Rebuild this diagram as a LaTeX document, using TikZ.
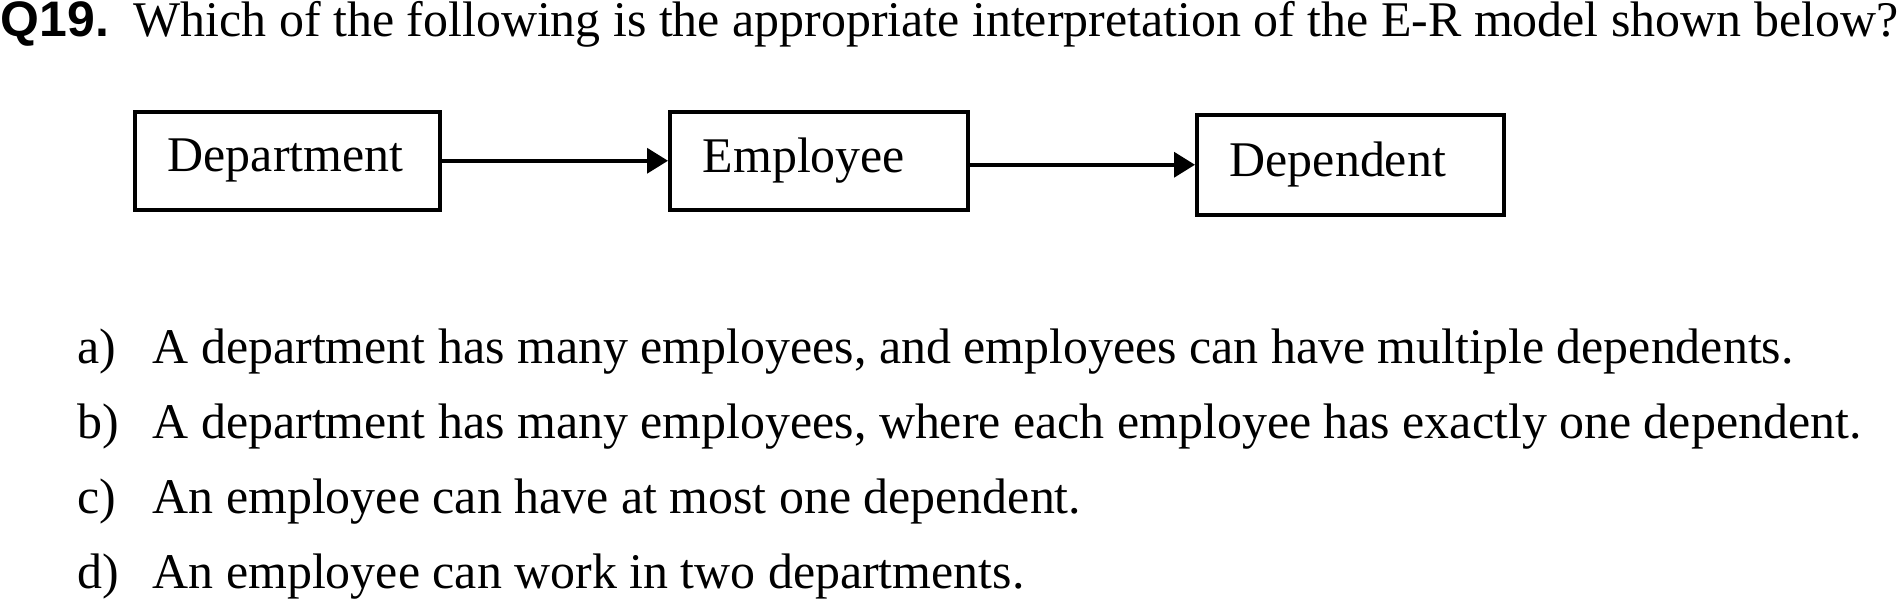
\documentclass[tikz,border=0pt]{standalone}
\usepackage{fontspec}
\setmainfont{Liberation Serif}
\setsansfont{Liberation Sans}
\usepackage{xcolor}
\usetikzlibrary{arrows.meta}

\tikzset{
  txt/.style={inner sep=0pt, font=\fontsize{14.2}{17}\selectfont},
  entity/.style={txt, draw=black, line width=1pt, inner xsep=0.33cm,
                 align=left, anchor=north west},
  rel/.style={line width=1pt, -{Triangle[length=0.21cm, width=0.25cm]}}
}

\begin{document}
\begin{tikzpicture}
                        \useasboundingbox (0,0) rectangle (18.99,-6.00);
                        % question
                        \node[txt, anchor=base west] (qnum) at (0,-0.36)
                        {\sffamily\bfseries Q19.};
                        \node[txt, anchor=base west] (qtext) at (1.33,-0.36)
                        {Which of the following is the appropriate
                        interpretation of the E-R model shown below?};
                        % E-R model
                        \node[entity, text width=2.39cm, minimum height=0.98cm]
                        (dept) at (1.33,-1.10) {Department};
                        \node[entity, text width=2.32cm, minimum height=0.98cm]
                        (emp) at (6.68,-1.10) {Employee};
                        \node[entity, text width=2.41cm, minimum height=1.00cm]
                        (dep) at (11.95,-1.13) {Dependent};
                        \draw[rel] (dept.east) -- (emp.west);
                        \draw[rel] (emp.east |- dep.west) -- (dep.west);
                        % answers
                        \node[txt, anchor=base west] (la) at (0.77,-3.63) {a)};
                        \node[txt, anchor=base west] (ta) at (1.52,-3.63)
                        {A department has many employees, and employees can
                        have multiple dependents.};
                        \node[txt, anchor=base west] (lb) at (0.77,-4.38) {b)};
                        \node[txt, anchor=base west] (tb) at (1.52,-4.38)
                        {A department has many employees, where each employee
                        has exactly one dependent.};
                        \node[txt, anchor=base west] (lc) at (0.77,-5.13) {c)};
                        \node[txt, anchor=base west] (tc) at (1.52,-5.13)
                        {An employee can have at most one dependent.};
                        \node[txt, anchor=base west] (ld) at (0.77,-5.88) {d)};
                        \node[txt, anchor=base west] (td) at (1.52,-5.88)
                        {An employee can work in two departments.};
\end{tikzpicture}
\end{document}
